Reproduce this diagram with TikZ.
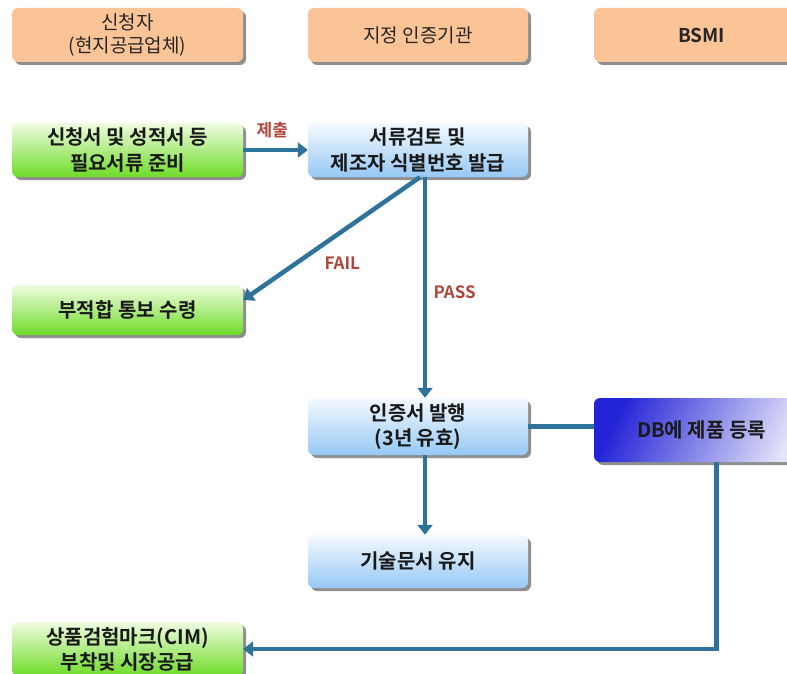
\documentclass[tikz,border=0pt]{standalone}
\usepackage{fontspec}
\setmainfont{Noto Sans CJK KR}[BoldFont={Noto Sans CJK KR Bold}]
\usetikzlibrary{shadows,arrows.meta}
\definecolor{hdr}{RGB}{250,196,150}
\definecolor{grnA}{RGB}{240,252,225}
\definecolor{grnB}{RGB}{110,220,40}
\definecolor{bluA}{RGB}{245,250,255}
\definecolor{bluB}{RGB}{150,200,245}
\definecolor{dbA}{RGB}{35,35,215}
\definecolor{dbM}{RGB}{135,135,235}
\definecolor{dbB}{RGB}{228,228,250}
\definecolor{conn}{RGB}{45,115,155}
\definecolor{lbl}{RGB}{175,70,60}
\tikzset{
  box/.style={rounded corners=6pt, minimum width=231pt, minimum height=54pt, align=center,
    font=\fontsize{20}{25}\selectfont\bfseries, text=black!90,
    drop shadow={shadow xshift=3pt, shadow yshift=-3pt, fill=black!55, opacity=0.8}},
  hdrbox/.style={box, fill=hdr, font=\fontsize{19}{23}\selectfont, text=black!85},
  grnbox/.style={box, top color=grnA, bottom color=grnB},
  blubox/.style={box, top color=bluA, bottom color=bluB},
  dbbox/.style={box, left color=dbA, middle color=dbM, right color=dbB, shading angle=65},
  connline/.style={draw=conn, line width=4.5pt},
  connarrow/.style={connline, -{Triangle[length=10pt,width=15pt]}},
  elbl/.style={text=lbl, font=\fontsize{17}{20}\selectfont\bfseries}
}
\begin{document}
\begin{tikzpicture}[x=1pt,y=-1pt]
\useasboundingbox (0,0) rectangle (787,674);
\node[hdrbox] (h1) at (127.5,35) {신청자\\(현지공급업체)};
\node[hdrbox, minimum width=220pt] (h2) at (418,35) {지정 인증기관};
\node[hdrbox, minimum width=215pt] (h3) at (701.5,35) {\bfseries BSMI};
\node[grnbox] (prep) at (127.5,150) {신청서 및 성적서 등\\필요서류 준비};
\node[blubox, minimum width=220pt] (rev) at (418,150) {서류검토 및\\제조자 식별번호 발급};
\node[grnbox, minimum height=50pt] (fail) at (127.5,310) {부적합 통보 수령};
\node[blubox, minimum width=220pt, minimum height=57pt] (cert) at (418,426.5) {인증서 발행\\(3년 유효)};
\node[dbbox, minimum width=215pt, minimum height=64pt] (db) at (701.5,430) {DB에 제품 등록};
\node[blubox, minimum width=220pt, minimum height=53pt] (tech) at (418,561.5) {기술문서 유지};
\node[grnbox, minimum height=54pt] (cim) at (127.5,649) {상품검험마크(CIM)\\부착및 시장공급};
\draw[connarrow] (prep.east) -- node[elbl, above=6pt, pos=0.45] {제출} (rev.west);
\draw[connarrow] ([xshift=2pt]rev.south) -- node[elbl, pos=0.6, anchor=north west, xshift=5pt] {FAIL} ([yshift=10pt]fail.east);
\draw[connarrow] ([xshift=7pt]rev.south) -- node[elbl, pos=0.52, right=3pt] {PASS} ([xshift=7pt]cert.north);
\draw[connline] (cert.east) -- (cert.east -| db.west);
\draw[connarrow] ([xshift=7pt]cert.south) -- ([xshift=7pt]tech.north);
\draw[connarrow] ([xshift=15pt]db.south) |- (cim.east);
\end{tikzpicture}
\end{document}
